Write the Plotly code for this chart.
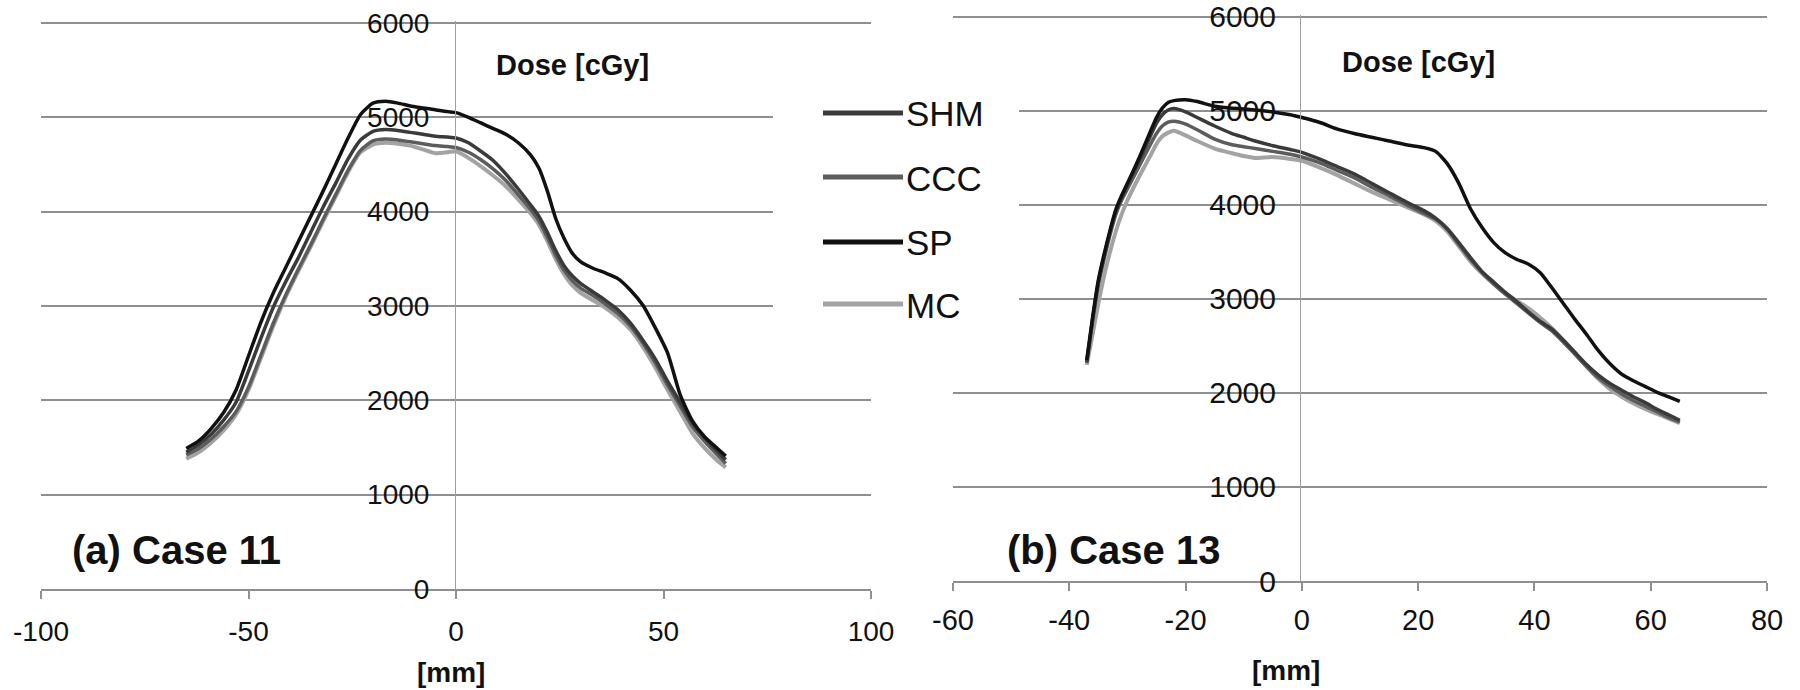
import plotly.graph_objects as go

# ---------------- data ----------------
series_names = ["SHM", "CCC", "SP", "MC"]

# Panel (a) Case 11
x_a = [-65, -62, -59, -56, -53, -50, -47, -44, -41, -38, -35, -32, -29, -26, -23, -20, -17, -14, -11, -8,
       -5, -2, 0, 3, 6, 9, 12, 15, 18, 20, 22, 24, 26, 28, 30, 33, 36, 39, 42, 45, 48, 51, 54, 57, 60, 63, 65]
sp_a = [1490, 1570, 1700, 1870, 2110, 2470, 2830, 3140, 3410, 3680, 3950, 4220, 4500, 4780, 5030, 5150, 5170, 5150, 5120, 5100,
        5080, 5060, 5050, 5000, 4940, 4880, 4820, 4730, 4600, 4460, 4220, 3930, 3720, 3560, 3470, 3400, 3350, 3290, 3170, 3010,
        2770, 2500, 2060, 1780, 1610, 1490, 1410]
shm_a = [1450, 1530, 1640, 1790, 1980, 2310, 2660, 2990, 3260, 3510, 3780, 4050, 4300, 4560, 4760, 4850, 4870, 4860, 4840, 4820,
         4800, 4790, 4780, 4730, 4640, 4540, 4400, 4240, 4070, 3950, 3780, 3590, 3430, 3320, 3240, 3150, 3060, 2960, 2820, 2640,
         2440, 2200, 1980, 1760, 1600, 1460, 1370]
ccc_a = [1420, 1490, 1590, 1720, 1880, 2140, 2480, 2820, 3120, 3390, 3650, 3920, 4180, 4440, 4650, 4750, 4770, 4760, 4740, 4720,
         4700, 4690, 4680, 4630, 4550, 4450, 4330, 4180, 4020, 3900, 3730, 3540, 3380, 3270, 3190, 3110, 3020, 2920, 2790, 2610,
         2400, 2160, 1940, 1720, 1560, 1420, 1330]
mc_a = [1380, 1450, 1550, 1680, 1850, 2110, 2450, 2790, 3100, 3370, 3630, 3900, 4160, 4420, 4630, 4710, 4730, 4720, 4700, 4660,
        4620, 4630, 4640, 4570, 4480, 4380, 4270, 4130, 3980, 3860, 3690, 3500, 3340, 3220, 3140, 3060, 2980, 2880, 2750, 2570,
        2350, 2110, 1880, 1650, 1490, 1360, 1290]

# Panel (b) Case 13
x_b = [-37, -36, -35, -34, -33, -32, -31, -30, -28, -26, -25, -24, -23, -22, -20, -18, -15, -12, -10, -8, -5, -2, 0, 3,
       6, 9, 12, 15, 18, 21, 23, 25, 27, 29, 31, 33, 35, 37, 39, 41, 43, 45, 47, 49, 51, 53, 55, 57, 59, 61, 63, 65]
sp_b = [2350, 2800, 3200, 3480, 3730, 3950, 4100, 4230, 4500, 4790, 4930, 5030, 5090, 5110, 5120, 5100, 5050, 5030, 5020, 5010,
        4990, 4960, 4930, 4880, 4810, 4760, 4720, 4680, 4640, 4610, 4570, 4440, 4230, 3960, 3760, 3600, 3490, 3420, 3370, 3280,
        3120, 2950, 2780, 2620, 2450, 2310, 2200, 2130, 2070, 2010, 1960, 1910]
shm_b = [2330, 2780, 3180, 3460, 3710, 3930, 4080, 4210, 4470, 4740, 4870, 4960, 5010, 5025, 4990, 4930, 4840, 4760, 4720, 4680,
         4630, 4590, 4560, 4490, 4410, 4330, 4230, 4130, 4030, 3940, 3860, 3750, 3600, 3440, 3290, 3180, 3070, 2970, 2860, 2760,
         2680, 2560, 2430, 2300, 2190, 2100, 2030, 1960, 1900, 1830, 1770, 1710]
ccc_b = [2320, 2760, 3150, 3430, 3680, 3900, 4050, 4170, 4410, 4650, 4760, 4840, 4880, 4890, 4860, 4800, 4700, 4640, 4620, 4600,
         4570, 4540, 4510, 4450, 4370, 4290, 4190, 4100, 4000, 3910, 3850, 3740, 3580, 3420, 3280, 3160, 3050, 2950, 2850, 2750,
         2660, 2540, 2410, 2280, 2160, 2070, 1990, 1920, 1860, 1800, 1740, 1690]
mc_b = [2300, 2620, 2950, 3250, 3500, 3720, 3900, 4050, 4300, 4530, 4650, 4730, 4770, 4790, 4740, 4680, 4600, 4550, 4520, 4500,
        4510, 4490, 4470, 4400, 4320, 4230, 4140, 4060, 3980, 3900, 3830, 3720, 3560, 3400, 3270, 3160, 3060, 2980, 2900, 2800,
        2690, 2560, 2420, 2280, 2150, 2040, 1960, 1890, 1830, 1780, 1730, 1680]

y_ticks = [0, 1000, 2000, 3000, 4000, 5000, 6000]
y_labels = ["0", "1000", "2000", "3000", "4000", "5000", "6000"]
xa_ticks = [-100, -50, 0, 50, 100]
xa_labels = ["-100", "-50", "0", "50", "100"]
xb_ticks = [-60, -40, -20, 0, 20, 40, 60, 80]
xb_labels = ["-60", "-40", "-20", "0", "20", "40", "60", "80"]

panel_labels = ["(a) Case 11", "(b) Case 13"]
y_title = "Dose [cGy]"
x_title = "[mm]"

colors = {"SHM": "#3a3a3a", "CCC": "#5c5c5c", "SP": "#111111", "MC": "#a3a3a3"}
widths = {"SHM": 3.5, "CCC": 3.5, "SP": 3.5, "MC": 4}

W, H = 1800, 690
def px(x):
    return x / W
def py(y):
    return 1 - y / H

fig = go.Figure()

data_a = {"SHM": shm_a, "CCC": ccc_a, "SP": sp_a, "MC": mc_a}
data_b = {"SHM": shm_b, "CCC": ccc_b, "SP": sp_b, "MC": mc_b}
draw_order = ["MC", "CCC", "SHM", "SP"]
for name in draw_order:
    fig.add_trace(go.Scatter(x=x_a, y=data_a[name], mode="lines", name=name, xaxis="x", yaxis="y",
                             line=dict(color=colors[name], width=widths[name], shape="spline", smoothing=0.6),
                             showlegend=False))
for name in draw_order:
    fig.add_trace(go.Scatter(x=x_b, y=data_b[name], mode="lines", name=name, xaxis="x2", yaxis="y2",
                             line=dict(color=colors[name], width=widths[name], shape="spline", smoothing=0.6),
                             showlegend=False))

FONT = "Liberation Sans, Arial, sans-serif"
grid_col = "#8f8f8f"

common_x = dict(showgrid=False, zeroline=False, showline=True, linecolor=grid_col, linewidth=1.5,
                ticks="outside", ticklen=8, tickcolor=grid_col, tickwidth=1.5, automargin=False)
common_y = dict(range=[0, 6025], tickvals=y_ticks, ticktext=y_labels, showgrid=True, gridcolor=grid_col,
                gridwidth=1.5, zeroline=False, showline=True, linecolor="#a0a0a0", linewidth=1, ticks="",
                anchor="free", automargin=False)

fig.update_layout(
    width=W, height=H, margin=dict(l=0, r=0, t=0, b=0, autoexpand=False),
    paper_bgcolor="white", plot_bgcolor="white", showlegend=False,
    xaxis=dict(domain=[px(41), px(871)], range=[-100, 100], tickvals=xa_ticks, ticktext=xa_labels, anchor="y",
               tickfont=dict(family=FONT, size=28, color="#111"), ticklabelstandoff=9, **common_x),
    yaxis=dict(domain=[py(589), py(20.6)], position=px(455), ticklabelstandoff=20,
               tickfont=dict(family=FONT, size=28, color="#111"), **common_y),
    xaxis2=dict(domain=[px(953), px(1767)], range=[-60, 80], tickvals=xb_ticks, ticktext=xb_labels, anchor="y2",
                tickfont=dict(family=FONT, size=29, color="#111"), ticklabelstandoff=4, **common_x),
    yaxis2=dict(domain=[py(581), py(14.6)], position=px(1300), ticklabelstandoff=18,
                tickfont=dict(family=FONT, size=30, color="#111"), **common_y),
)

ann = []
ann.append(dict(text="<b>%s</b>" % y_title, x=px(572), y=py(65), xref="paper", yref="paper",
                showarrow=False, font=dict(family=FONT, size=29, color="#111"), xanchor="center", yanchor="middle"))
ann.append(dict(text="<b>%s</b>" % y_title, x=px(1418), y=py(62), xref="paper", yref="paper",
                showarrow=False, font=dict(family=FONT, size=29, color="#111"), xanchor="center", yanchor="middle"))
ann.append(dict(text="<b>%s</b>" % panel_labels[0], x=px(70), y=py(550), xref="paper", yref="paper",
                showarrow=False, font=dict(family=FONT, size=40, color="#111"), xanchor="left", yanchor="middle"))
ann.append(dict(text="<b>%s</b>" % panel_labels[1], x=px(1005), y=py(550), xref="paper", yref="paper",
                showarrow=False, font=dict(family=FONT, size=40, color="#111"), xanchor="left", yanchor="middle"))
ann.append(dict(text="<b>%s</b>" % x_title, x=px(451), y=py(672), xref="paper", yref="paper",
                showarrow=False, font=dict(family=FONT, size=28, color="#111"), xanchor="center", yanchor="middle"))
ann.append(dict(text="<b>%s</b>" % x_title, x=px(1286), y=py(670), xref="paper", yref="paper",
                showarrow=False, font=dict(family=FONT, size=28, color="#111"), xanchor="center", yanchor="middle"))

# legend (drawn manually for long line samples)
shapes = [dict(type="rect", xref="paper", yref="paper", x0=px(773), x1=px(1019), y0=py(335), y1=py(88),
               fillcolor="white", line=dict(width=0), layer="above")]
legend_y = {"SHM": 113, "CCC": 177, "SP": 242, "MC": 304}
for name in series_names:
    yy = legend_y[name]
    shapes.append(dict(type="line", xref="paper", yref="paper", x0=px(823), x1=px(903), y0=py(yy), y1=py(yy),
                       line=dict(color=colors[name], width=5), layer="above"))
    ann.append(dict(text=name, x=px(904), y=py(yy + 1), xref="paper", yref="paper", showarrow=False,
                    font=dict(family=FONT, size=35, color="#111"), xanchor="left", yanchor="middle"))

fig.update_layout(annotations=ann, shapes=shapes)
fig.write_html("out.html")
